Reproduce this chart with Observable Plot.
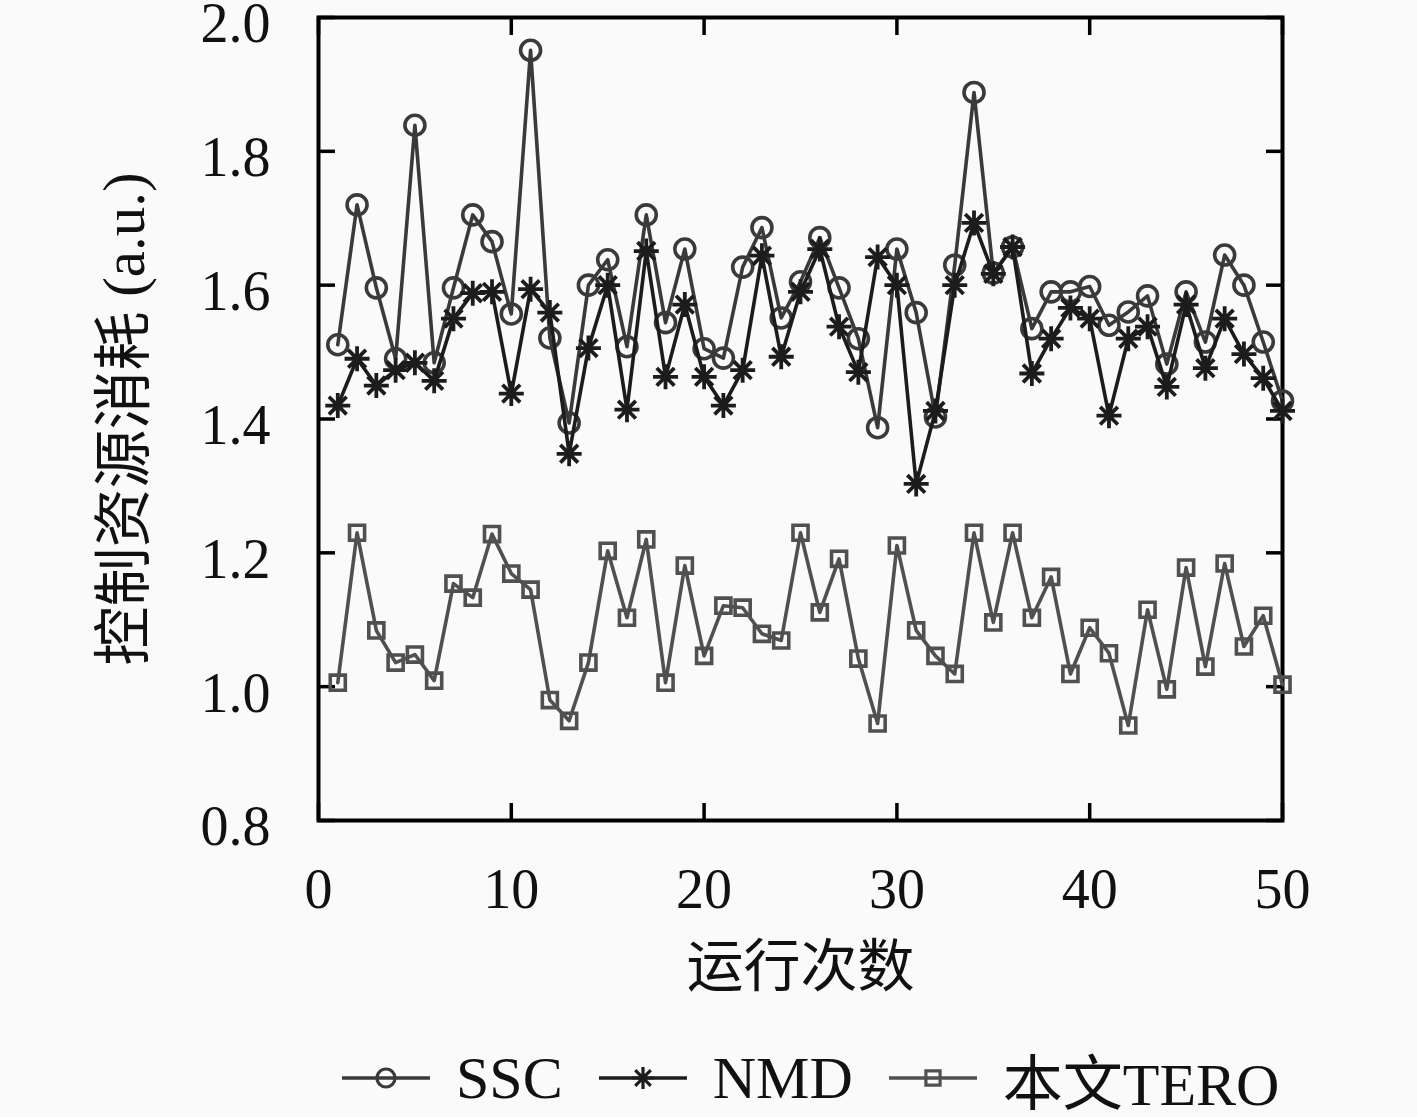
<!DOCTYPE html>
<html>
<head>
<meta charset="utf-8">
<script src="https://cdn.jsdelivr.net/npm/d3@7"></script>
<script src="https://cdn.jsdelivr.net/npm/@observablehq/plot@0.6"></script>
<style>
  html, body { margin: 0; padding: 0; background: #fafafa; }
  #chart { width: 1417px; }
  #legend { display: flex; align-items: center; height: 76px; margin-left: 340px;
    font-family: "Liberation Serif", "Noto Sans CJK SC", serif; font-size: 60px; color: #111; }
  #legend .item { display: flex; align-items: center; margin-right: 34px; }
  #legend svg { margin-right: 24px; }
</style>
</head>
<body>
<div id="chart"></div>
<div id="legend"></div>
<script>
const runs = d3.range(1, 51);
const ssc = [1.511,1.720,1.596,1.490,1.839,1.484,1.596,1.705,1.665,1.557,
             1.951,1.521,1.394,1.600,1.638,1.508,1.705,1.544,1.654,1.505,
             1.491,1.627,1.686,1.551,1.605,1.671,1.596,1.520,1.387,1.654,
             1.559,1.403,1.630,1.888,1.618,1.657,1.535,1.590,1.590,1.598,
             1.540,1.560,1.584,1.482,1.590,1.515,1.645,1.600,1.515,1.427];
const nmd = [1.420,1.490,1.450,1.473,1.484,1.457,1.550,1.588,1.590,1.438,
             1.594,1.559,1.348,1.506,1.600,1.414,1.651,1.463,1.571,1.463,
             1.420,1.473,1.644,1.493,1.590,1.654,1.538,1.470,1.642,1.600,
             1.303,1.412,1.600,1.693,1.617,1.657,1.468,1.520,1.566,1.550,
             1.405,1.520,1.538,1.448,1.571,1.476,1.550,1.497,1.461,1.412];
const tero = [1.006,1.230,1.084,1.036,1.048,1.009,1.154,1.133,1.228,1.169,
              1.145,0.980,0.949,1.036,1.203,1.103,1.220,1.006,1.181,1.046,
              1.121,1.118,1.079,1.069,1.230,1.111,1.191,1.042,0.945,1.211,
              1.084,1.046,1.019,1.230,1.096,1.230,1.103,1.164,1.019,1.088,
              1.050,0.942,1.115,0.996,1.178,1.030,1.184,1.060,1.106,1.003];
const seriesNames = ["SSC", "NMD", "本文TERO"];
const xTicks = [0, 10, 20, 30, 40, 50];
const yTicks = [0.8, 1.0, 1.2, 1.4, 1.6, 1.8, 2.0];
const xLabel = "运行次数";
const yLabel = "控制资源消耗 (a.u.)";

const colors = {"SSC": "#3a3a3a", "NMD": "#1c1c1c", "本文TERO": "#505050"};

// 8-spoke asterisk symbol
const asterisk8 = {
  draw(context, size) {
    const r = Math.sqrt(size / Math.PI);
    for (let i = 0; i < 4; i++) {
      const a = i * Math.PI / 4;
      const c = Math.cos(a) * r, s = Math.sin(a) * r;
      context.moveTo(-c, -s);
      context.lineTo(c, s);
    }
  }
};

const mk = (vals, name) => runs.map((r, i) => ({run: r, value: vals[i], series: name}));
const dSSC = mk(ssc, "SSC"), dNMD = mk(nmd, "NMD"), dTERO = mk(tero, "本文TERO");

const font = '"Liberation Serif", "Noto Sans CJK SC", serif';
const LW = 3.6;

const chart = Plot.plot({
  width: 1417,
  height: 1040,
  marginLeft: 318,
  marginRight: 135,
  marginTop: 17,
  marginBottom: 220,
  style: {fontFamily: font, fontSize: "56px", background: "transparent", color: "#111"},
  x: {domain: [0, 50]},
  y: {domain: [0.8, 2.0]},
  marks: [
    // tick labels
    Plot.axisX(xTicks, {anchor: "bottom", tickSize: 0, tickPadding: 48, fontSize: 56, label: null}),
    Plot.axisY(yTicks, {anchor: "left", tickSize: 0, tickPadding: 48, dy: 7, fontSize: 56, tickFormat: ".1f", label: null}),
    // inward ticks on all sides
    Plot.axisX(xTicks, {anchor: "bottom", tickSize: -17, text: null, strokeWidth: 3.5, label: null, stroke: "#000"}),
    Plot.axisX(xTicks, {anchor: "top", tickSize: -17, text: null, strokeWidth: 3.5, label: null, stroke: "#000"}),
    Plot.axisY(yTicks, {anchor: "left", tickSize: -17, text: null, strokeWidth: 3.5, label: null, stroke: "#000"}),
    Plot.axisY(yTicks, {anchor: "right", tickSize: -17, text: null, strokeWidth: 3.5, label: null, stroke: "#000"}),
    Plot.frame({stroke: "#000", strokeWidth: 4}),
    // series
    Plot.line(dSSC, {x: "run", y: "value", stroke: colors["SSC"], strokeWidth: LW}),
    Plot.dot(dSSC, {x: "run", y: "value", symbol: "circle", r: 10, stroke: colors["SSC"], strokeWidth: LW, fill: "none"}),
    Plot.line(dNMD, {x: "run", y: "value", stroke: colors["NMD"], strokeWidth: LW}),
    Plot.dot(dNMD, {x: "run", y: "value", symbol: asterisk8, r: 12.5, stroke: colors["NMD"], strokeWidth: 3.8, fill: "none"}),
    Plot.line(dTERO, {x: "run", y: "value", stroke: colors["本文TERO"], strokeWidth: LW}),
    Plot.dot(dTERO, {x: "run", y: "value", symbol: "square", r: 8.5, stroke: colors["本文TERO"], strokeWidth: LW, fill: "none"}),
    // axis titles
    Plot.text([xLabel], {frameAnchor: "bottom", dy: 165, text: d => d, fontSize: 57, fill: "#111"}),
    Plot.text([yLabel], {frameAnchor: "left", textAnchor: "middle", dx: -193, rotate: -90, text: d => d, fontSize: 59, fill: "#111"})
  ]
});
document.getElementById("chart").appendChild(chart);

// Legend
const legend = document.getElementById("legend");
const symbolsFor = {"SSC": d3.symbolCircle, "NMD": asterisk8, "本文TERO": d3.symbolSquare};
const sizes = {"SSC": Math.PI * 81, "NMD": Math.PI * 121, "本文TERO": Math.PI * 64};
seriesNames.forEach(name => {
  const item = document.createElement("div");
  item.className = "item";
  const svg = d3.create("svg").attr("width", 92).attr("height", 40);
  svg.append("line").attr("x1", 2).attr("x2", 90).attr("y1", 20).attr("y2", 20)
    .attr("stroke", colors[name]).attr("stroke-width", LW);
  svg.append("path").attr("transform", "translate(46,20)")
    .attr("d", d3.symbol(symbolsFor[name], sizes[name])())
    .attr("fill", "none").attr("stroke", colors[name]).attr("stroke-width", 3.2);
  item.appendChild(svg.node());
  const t = document.createElement("span");
  t.textContent = name;
  item.appendChild(t);
  legend.appendChild(item);
});
</script>
</body>
</html>
